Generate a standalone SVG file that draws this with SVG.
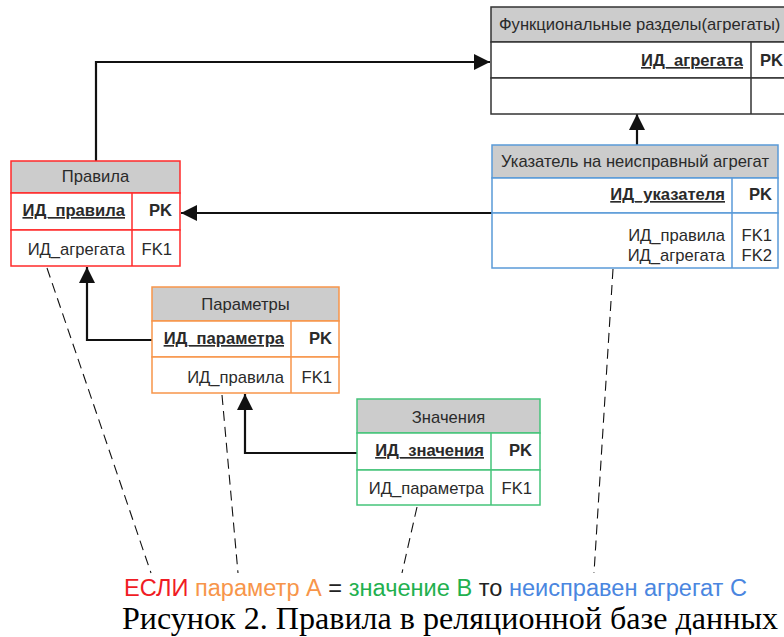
<svg xmlns="http://www.w3.org/2000/svg" width="784" height="637" viewBox="0 0 784 637">
  <defs>
    <marker id="arrow" markerUnits="userSpaceOnUse" markerWidth="16" markerHeight="16" refX="16" refY="8" orient="auto">
      <path d="M0,0 L16,8 L0,16 z" fill="#111"/>
    </marker>
    <style>
      .t { font-family: "Liberation Sans", Arial, sans-serif; font-size: 16.6px; fill: #2a2a2a; }
      .b { font-weight: bold; }
      .u { text-decoration: underline; }
      .hdr { fill: #cccccc; }
      .row { fill: #ffffff; }
      .conn { fill: none; stroke: #111; stroke-width: 2.2; }
      .dash { fill: none; stroke: #111; stroke-width: 1.1; stroke-dasharray: 10 6; }
      .red { stroke: #ff2a2a; }
      .org { stroke: #f7954a; }
      .grn { stroke: #45c47a; }
      .blu { stroke: #5a9ad8; }
      .blk { stroke: #333; }
      .box rect, .box line { stroke-width: 1.5; }
    </style>
  </defs>
  <rect width="784" height="637" fill="#ffffff"/>

  <!-- connectors -->
  <g id="connectors">
    <path class="conn" d="M96,161 V62 H490" marker-end="url(#arrow)"/>
    <path class="conn" d="M637,145 V114" marker-end="url(#arrow)"/>
    <path class="conn" d="M492,213 H181" marker-end="url(#arrow)"/>
    <path class="conn" d="M152,340 H87 V267" marker-end="url(#arrow)"/>
    <path class="conn" d="M357,453 H245 V394" marker-end="url(#arrow)"/>
    <path class="dash" d="M47,268 L151,573"/>
    <path class="dash" d="M222,395 L238,573"/>
    <path class="dash" d="M417,507 L402,573"/>
    <path class="dash" d="M613,269 L594,573"/>
  </g>

  <!-- Функциональные разделы -->
  <g id="node-units" class="box">
    <rect class="hdr blk" x="491" y="7" width="320" height="35"/>
    <rect class="row blk" x="491" y="42" width="320" height="36"/>
    <rect class="row blk" x="491" y="78" width="320" height="36"/>
    <line class="blk" x1="751" y1="42" x2="751" y2="114"/>
    <text class="t" x="499" y="30">Функциональные разделы(агрегаты)</text>
    <text class="t b u" x="743" y="66" text-anchor="end">ИД_агрегата</text>
    <text class="t b" x="760" y="66">PK</text>
  </g>

  <!-- Правила -->
  <g id="node-rules" class="box">
    <rect class="hdr red" x="11" y="161" width="169" height="32"/>
    <rect class="row red" x="11" y="193" width="169" height="37"/>
    <rect class="row red" x="11" y="230" width="169" height="36"/>
    <line class="red" x1="132" y1="193" x2="132" y2="266"/>
    <text class="t" x="95.5" y="182" text-anchor="middle">Правила</text>
    <text class="t b u" x="125" y="216" text-anchor="end">ИД_правила</text>
    <text class="t b" x="172" y="216" text-anchor="end">PK</text>
    <text class="t" x="125" y="255" text-anchor="end">ИД_агрегата</text>
    <text class="t" x="172" y="255" text-anchor="end">FK1</text>
  </g>

  <!-- Указатель на неисправный агрегат -->
  <g id="node-pointer" class="box">
    <rect class="hdr blu" x="492" y="145" width="286" height="33"/>
    <rect class="row blu" x="492" y="178" width="286" height="35"/>
    <rect class="row blu" x="492" y="213" width="286" height="55"/>
    <line class="blu" x1="732" y1="178" x2="732" y2="268"/>
    <text class="t" x="635" y="167" text-anchor="middle">Указатель на неисправный агрегат</text>
    <text class="t b u" x="725" y="200" text-anchor="end">ИД_указателя</text>
    <text class="t b" x="772" y="200" text-anchor="end">PK</text>
    <text class="t" x="725" y="241" text-anchor="end">ИД_правила</text>
    <text class="t" x="772" y="241" text-anchor="end">FK1</text>
    <text class="t" x="725" y="261" text-anchor="end">ИД_агрегата</text>
    <text class="t" x="772" y="261" text-anchor="end">FK2</text>
  </g>

  <!-- Параметры -->
  <g id="node-params" class="box">
    <rect class="hdr org" x="152" y="287" width="187" height="34"/>
    <rect class="row org" x="152" y="321" width="187" height="36"/>
    <rect class="row org" x="152" y="357" width="187" height="36"/>
    <line class="org" x1="291" y1="321" x2="291" y2="393"/>
    <text class="t" x="245.5" y="310" text-anchor="middle">Параметры</text>
    <text class="t b u" x="284" y="344" text-anchor="end">ИД_параметра</text>
    <text class="t b" x="332" y="344" text-anchor="end">PK</text>
    <text class="t" x="284" y="382.5" text-anchor="end">ИД_правила</text>
    <text class="t" x="332" y="382.5" text-anchor="end">FK1</text>
  </g>

  <!-- Значения -->
  <g id="node-values" class="box">
    <rect class="hdr grn" x="357" y="399" width="183" height="34"/>
    <rect class="row grn" x="357" y="433" width="183" height="37"/>
    <rect class="row grn" x="357" y="470" width="183" height="35"/>
    <line class="grn" x1="491" y1="433" x2="491" y2="505"/>
    <text class="t" x="448.5" y="422.5" text-anchor="middle">Значения</text>
    <text class="t b u" x="484" y="456" text-anchor="end">ИД_значения</text>
    <text class="t b" x="532" y="456" text-anchor="end">PK</text>
    <text class="t" x="484" y="494" text-anchor="end">ИД_параметра</text>
    <text class="t" x="532" y="494" text-anchor="end">FK1</text>
  </g>

  <!-- rule formula and caption -->
  <text x="124" y="596" textLength="623" lengthAdjust="spacingAndGlyphs" font-family="'Liberation Sans', Arial, sans-serif" font-size="23"><tspan fill="#f01c24">ЕСЛИ </tspan><tspan fill="#f7954a">параметр А </tspan><tspan fill="#222">= </tspan><tspan fill="#22b04e">значение В </tspan><tspan fill="#222">то </tspan><tspan fill="#4a86e0">неисправен агрегат С</tspan></text>
  <text x="122" y="629" textLength="656" lengthAdjust="spacingAndGlyphs" font-family="'Liberation Serif', 'Times New Roman', serif" font-size="31" fill="#000">Рисунок 2. Правила в реляционной базе данных</text>
</svg>
